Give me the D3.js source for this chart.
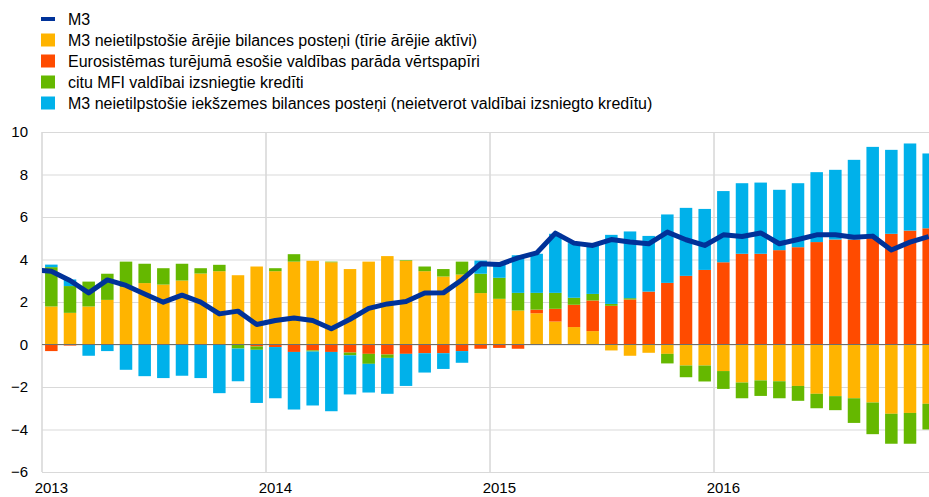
<!DOCTYPE html>
<meta charset="utf-8">
<head>
  <title>M3 counterparts</title>
</head>

<style>
body {
  margin: 0;
  background: #fff;
  font-family: Arial, "Liberation Sans", sans-serif;
}

svg text {
  fill: #000;
}

.grid line {
  stroke: #d9d9d9;
  stroke-width: 1.2px;
}

.year-line {
  stroke: #d9d9d9;
  stroke-width: 1.6px;
}

.zero-line {
  stroke: #6e6e6e;
  stroke-width: 1.2px;
}

.m3-line {
  fill: none;
  stroke: #003299;
  stroke-width: 5px;
  stroke-linejoin: round;
}
</style>

<body>
  <svg width="929" height="497"></svg>

  <script src="https://cdnjs.cloudflare.com/ajax/libs/d3/7.8.5/d3.min.js"></script>

  <script>
var years = ['2013', '2014', '2015', '2016'];
var yTicks = [-6, -4, -2, 0, 2, 4, 6, 8, 10];

var seriesNames = [
  'M3',
  'M3 neietilpstošie ārējie bilances posteņi (tīrie ārējie aktīvi)',
  'Eurosistēmas turējumā esošie valdības parāda vērtspapīri',
  'citu MFI valdībai izsniegtie kredīti',
  'M3 neietilpstošie iekšzemes bilances posteņi (neietverot valdībai izsniegto kredītu)'
];
var seriesColors = ['#003299', '#ffb400', '#ff4b00', '#65b800', '#00b1ea'];

// monthly contributions, Jan 2013 .. Dec 2016 (percentage points)
var netExternal = [
  1.79, 1.49, 1.79, 2.10, 2.70, 2.89, 2.82, 3.01, 3.34, 3.45, 3.26, 3.67,
  3.45, 3.90, 3.94, 3.87, 3.55, 3.90, 4.16, 3.94, 3.45, 3.20, 3.29, 2.42,
  2.15, 1.60, 1.47, 1.08, 0.82, 0.63, -0.28, -0.53, -0.39, -0.44, -0.99, -0.99,
  -1.25, -1.79, -1.69, -1.73, -1.95, -2.32, -2.43, -2.53, -2.73, -3.26, -3.22, -2.79
];
var eurosystemDebt = [
  -0.31, -0.05, 0, 0, 0, 0, 0, 0, 0, 0, 0, -0.09,
  -0.12, -0.35, -0.28, -0.35, -0.38, -0.44, -0.47, -0.44, -0.41, -0.41, -0.31, -0.20,
  -0.16, -0.20, 0.17, 0.60, 1.05, 1.44, 1.82, 2.12, 2.49, 2.90, 3.23, 3.51,
  3.87, 4.27, 4.27, 4.44, 4.58, 4.82, 4.94, 4.94, 5.05, 5.21, 5.36, 5.47
];
var mfiCredit = [
  1.85, 1.26, 1.17, 1.23, 1.20, 0.91, 0.77, 0.79, 0.25, 0.30, -0.19, -0.16,
  0.14, 0.35, -0.05, 0.03, -0.13, -0.47, -0.16, 0.03, 0.22, 0.35, 0.61, 0.91,
  0.99, 0.83, 0.79, 0.75, 0.33, 0.31, 0.09, 0.06, 0, -0.45, -0.55, -0.75,
  -0.84, -0.74, -0.73, -0.80, -0.70, -0.68, -0.66, -1.16, -1.49, -1.41, -1.45, -1.21
];
var domesticOther = [
  0.12, 0.31, -0.53, -0.31, -1.19, -1.49, -1.58, -1.47, -1.58, -2.29, -1.54, -2.50,
  -2.41, -2.71, -2.54, -2.79, -1.84, -1.35, -1.69, -1.51, -0.91, -0.74, -0.55, 0.62,
  0.62, 1.77, 1.84, 2.78, 2.57, 2.31, 3.25, 3.14, 2.62, 3.22, 3.20, 2.87,
  3.35, 3.32, 3.35, 2.84, 3.01, 3.29, 3.28, 3.75, 4.25, 3.95, 4.10, 3.52
];
// M3 annual growth, Dec 2012 .. Dec 2016
var m3 = [
  3.52,
  3.45, 3.01, 2.43, 3.04, 2.78, 2.38, 1.99, 2.32, 1.99, 1.44, 1.57, 0.94,
  1.13, 1.25, 1.13, 0.74, 1.19, 1.70, 1.91, 2.02, 2.42, 2.43, 3.05, 3.80,
  3.76, 4.08, 4.31, 5.24, 4.77, 4.66, 4.94, 4.82, 4.74, 5.29, 4.93, 4.66,
  5.16, 5.08, 5.25, 4.74, 4.94, 5.16, 5.16, 5.05, 5.10, 4.45, 4.82, 5.08
];

var plotLeft = 42, plotRight = 929, plotTop = 132, plotBottom = 472;
var nMonths = netExternal.length;

var svg = d3.select('svg');

var x = d3.scaleLinear().domain([0, nMonths]).range([plotLeft, plotLeft + 18.667 * nMonths]);
var y = d3.scaleLinear().domain([-6, 10]).range([plotBottom, plotTop]);
var step = x(1) - x(0);
var barWidth = step * 0.67;

svg.append('defs').append('clipPath').attr('id', 'plot-clip')
  .append('rect')
  .attr('x', plotLeft).attr('y', 0)
  .attr('width', plotRight - plotLeft).attr('height', 497);

// Horizontal gridlines + y labels
var yAxis = svg.append('g')
  .attr('class', 'grid')
  .attr('transform', 'translate(' + plotLeft + ',0)')
  .call(d3.axisLeft(y).tickValues(yTicks).tickSize(-(plotRight - plotLeft)).tickPadding(14).tickFormat(d3.format('d')));
yAxis.select('.domain').remove();
yAxis.selectAll('text')
  .style('font-size', '15px')
  .style('font-family', 'Arial, "Liberation Sans", sans-serif')
  .attr('fill', '#000');

// Vertical year lines (incl. left edge)
svg.append('g')
  .selectAll('line')
  .data(years)
  .join('line')
  .attr('class', 'year-line')
  .attr('x1', function(d, i) { return x(i * 12); })
  .attr('x2', function(d, i) { return x(i * 12); })
  .attr('y1', plotTop)
  .attr('y2', plotBottom);

// Year labels
svg.append('g')
  .selectAll('text')
  .data(years)
  .join('text')
  .attr('x', function(d, i) { return x(i * 12 + 0.5); })
  .attr('y', 493)
  .attr('text-anchor', 'middle')
  .style('font-size', '15px')
  .text(function(d) { return d; });

// Stacked bars
var table = netExternal.map(function(d, i) {
  return {
    i: i,
    ext: netExternal[i],
    eur: eurosystemDebt[i],
    mfi: mfiCredit[i],
    dom: domesticOther[i]
  };
});
var keys = ['ext', 'eur', 'mfi', 'dom'];
var stacked = d3.stack().keys(keys).offset(d3.stackOffsetDiverging)(table);

var plot = svg.append('g').attr('clip-path', 'url(#plot-clip)');

plot.append('g')
  .selectAll('g')
  .data(stacked)
  .join('g')
  .attr('fill', function(d, k) { return seriesColors[k + 1]; })
  .selectAll('rect')
  .data(function(d) { return d; })
  .join('rect')
  .attr('x', function(d) { return x(d.data.i + 0.5) - barWidth / 2; })
  .attr('width', barWidth)
  .attr('y', function(d) { return y(Math.max(d[0], d[1])); })
  .attr('height', function(d) { return Math.abs(y(d[0]) - y(d[1])); });

// Zero line
plot.append('line')
  .attr('class', 'zero-line')
  .attr('x1', plotLeft).attr('x2', plotRight)
  .attr('y1', y(0)).attr('y2', y(0));

// M3 line (first value is Dec 2012, falls left of the plot)
var line = d3.line()
  .x(function(d, i) { return x(i - 0.5); })
  .y(function(d) { return y(d); });

plot.append('path')
  .datum(m3)
  .attr('class', 'm3-line')
  .attr('d', line);

// Legend
var legend = svg.append('g')
  .selectAll('g')
  .data(seriesNames)
  .join('g')
  .attr('transform', function(d, i) { return 'translate(41,' + (19 + i * 21) + ')'; });

legend.append('rect')
  .attr('x', 0)
  .attr('y', function(d, i) { return i === 0 ? -2 : -6.5; })
  .attr('width', 14)
  .attr('height', function(d, i) { return i === 0 ? 4 : 13; })
  .attr('fill', function(d, i) { return seriesColors[i]; });

legend.append('text')
  .attr('x', 27)
  .attr('y', 5.5)
  .style('font-size', '16px')
  .text(function(d) { return d; });
  </script>
</body>
</html>
